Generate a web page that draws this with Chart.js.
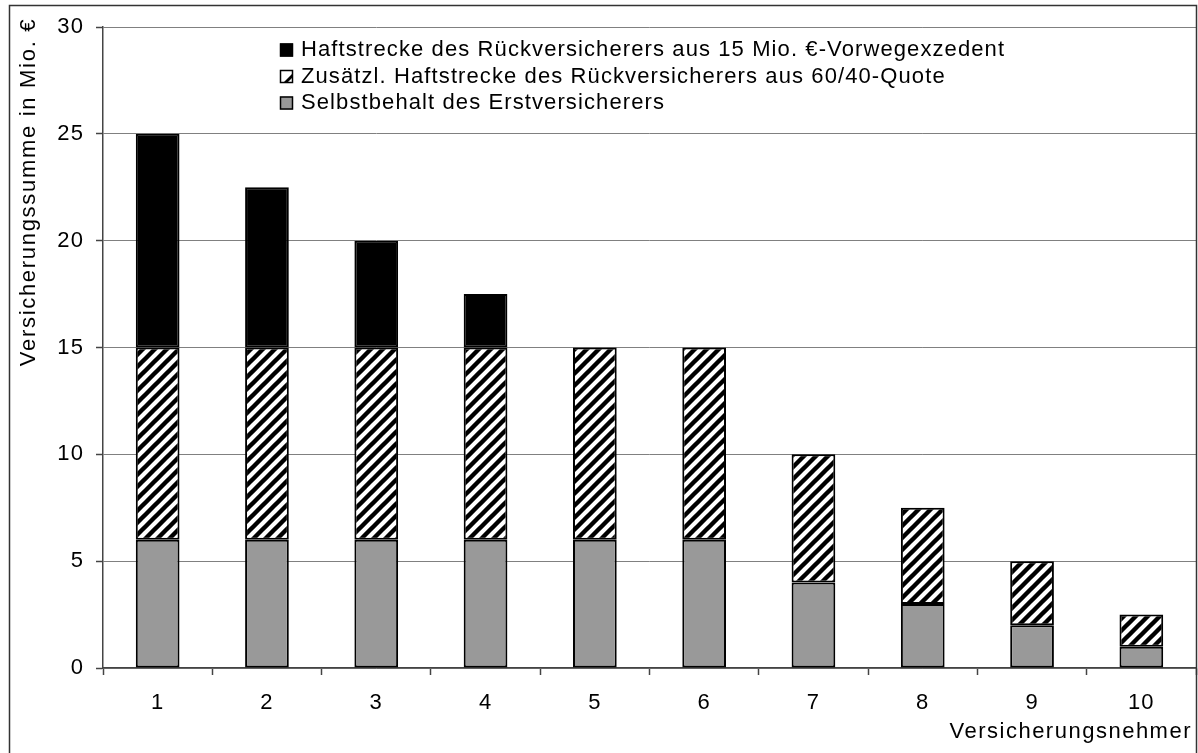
<!DOCTYPE html>
<html>
<head>
<meta charset="utf-8">
<script src="https://cdn.jsdelivr.net/npm/chart.js@4/dist/chart.umd.min.js"></script>
<style>
  html, body { margin: 0; padding: 0; background: #fff; }
  canvas { display: block; }
</style>
</head>
<body>
<canvas id="chart" width="1198" height="753"></canvas>
<script>
// Versicherungsnehmer 1..10
const categories = ['1', '2', '3', '4', '5', '6', '7', '8', '9', '10'];

// Selbstbehalt des Erstversicherers (Mio. €)
const selbstbehalt = [6, 6, 6, 6, 6, 6, 4, 3, 2, 1];
// Zusätzliche Haftstrecke aus der 60/40-Quote (Mio. €)
const quoteHaftung = [9, 9, 9, 9, 9, 9, 6, 4.5, 3, 1.5];
// Haftstrecke aus dem 15 Mio. €-Vorwegexzedent (Mio. €)
const exzedentHaftung = [10, 7.5, 5, 2.5, 0, 0, 0, 0, 0, 0];

const yTicks = [0, 5, 10, 15, 20, 25, 30];

const seriesLabels = [
  'Selbstbehalt des Erstversicherers',
  'Zusätzl. Haftstrecke des Rückversicherers aus 60/40-Quote',
  'Haftstrecke des Rückversicherers aus 15 Mio. €-Vorwegexzedent'
];

const FONT = "'Liberation Sans', Arial, sans-serif";
const FSIZE = 22;
const SPACING = '1.1px';

// diagonal hatch fill "/"
function makeHatch() {
  const s = 12;
  const c = document.createElement('canvas');
  c.width = s; c.height = s;
  const g = c.getContext('2d');
  g.fillStyle = '#fff';
  g.fillRect(0, 0, s, s);
  g.strokeStyle = '#000';
  g.lineWidth = 4.4;
  g.lineCap = 'square';
  g.beginPath();
  g.moveTo(-2, s + 2); g.lineTo(s + 2, -2);
  g.moveTo(-s / 2 - 2, s / 2 + 2); g.lineTo(s / 2 + 2, -s / 2 - 2);
  g.moveTo(s / 2 - 2, s * 1.5 + 2); g.lineTo(s * 1.5 + 2, s / 2 - 2);
  g.stroke();
  return g.createPattern(c, 'repeat');
}

const ctx0 = document.getElementById('chart').getContext('2d');
const hatch = makeHatch();

const fills = ['#999999', hatch, '#000000'];

// white page, slightly wider letter spacing for all text
const pagePlugin = {
  id: 'page',
  beforeLayout(chart) { chart.ctx.letterSpacing = SPACING; },
  beforeDraw(chart) {
    const c = chart.ctx;
    c.save();
    c.fillStyle = '#fff';
    c.fillRect(0, 0, chart.width, chart.height);
    c.restore();
    c.letterSpacing = SPACING;
  },
  afterDraw(chart) {
    const c = chart.ctx;
    c.save();
    c.letterSpacing = SPACING;
    c.fillStyle = '#000';
    c.font = FSIZE + 'px ' + FONT;

    // axis titles
    c.save();
    c.letterSpacing = '1.7px';
    c.translate(29, 192);
    c.rotate(-Math.PI / 2);
    c.textAlign = 'center';
    c.textBaseline = 'middle';
    c.fillText('Versicherungssumme in Mio. €', 0, 0);
    c.restore();

    c.save();
    c.letterSpacing = '1.5px';
    c.textAlign = 'right';
    c.textBaseline = 'middle';
    c.fillText('Versicherungsnehmer', 1192, 732);
    c.restore();

    // legend, top series first
    const order = [2, 1, 0];
    const rowY = [50, 76.5, 103];
    order.forEach((di, i) => {
      const ds = chart.data.datasets[di];
      const bx = 280, by = rowY[i] - 6.5, bs = 13;
      if (di === 1) {
        c.fillStyle = '#fff';
        c.fillRect(bx, by, bs, bs);
        c.fillStyle = '#000';
        c.beginPath();
        c.moveTo(bx + 3, by + bs);
        c.lineTo(bx + bs, by + 3);
        c.lineTo(bx + bs, by + bs);
        c.closePath();
        c.fill();
        c.fillStyle = '#fff';
        c.beginPath();
        c.moveTo(bx + 7, by + bs);
        c.lineTo(bx + bs, by + 7);
        c.lineTo(bx + bs, by + bs);
        c.closePath();
        c.fill();
      } else {
        c.fillStyle = ds.backgroundColor;
        c.fillRect(bx, by, bs, bs);
      }
      c.strokeStyle = '#000';
      c.lineWidth = 1.5;
      c.strokeRect(bx + 0.5, by + 0.5, bs - 1, bs - 1);
      c.fillStyle = '#000';
      c.textAlign = 'left';
      c.textBaseline = 'middle';
      c.fillText(ds.label, 301, rowY[i]);
    });

    // outer frame
    c.strokeStyle = '#333';
    c.lineWidth = 1.5;
    c.strokeRect(9.5, 5.5, 1187, 800);
    c.restore();
  }
};

new Chart(ctx0, {
  type: 'bar',
  data: {
    labels: categories,
    datasets: [
      { label: seriesLabels[0], data: selbstbehalt, backgroundColor: fills[0] },
      { label: seriesLabels[1], data: quoteHaftung, backgroundColor: fills[1] },
      { label: seriesLabels[2], data: exzedentHaftung, backgroundColor: fills[2] }
    ].map(d => Object.assign(d, {
      borderColor: '#000',
      borderWidth: 2,
      borderSkipped: false,
      categoryPercentage: 1,
      barPercentage: 0.4
    }))
  },
  options: {
    responsive: false,
    devicePixelRatio: 1,
    animation: false,
    layout: { padding: { left: 0, top: 27, right: 2, bottom: 0 } },
    plugins: {
      legend: { display: false },
      tooltip: { enabled: false }
    },
    scales: {
      x: {
        stacked: true,
        offset: true,
        afterFit(scale) { scale.height = 85; },
        grid: {
          offset: true,
          drawOnChartArea: false,
          drawTicks: true,
          tickLength: 7,
          tickColor: '#444',
          tickWidth: 1.5
        },
        border: { color: '#444', width: 1.5 },
        ticks: {
          color: '#000',
          font: { family: FONT, size: FSIZE },
          padding: 15,
          maxRotation: 0
        }
      },
      y: {
        stacked: true,
        min: 0,
        max: 30,
        afterFit(scale) { scale.width = 103; },
        afterBuildTicks(scale) { scale.ticks = yTicks.map(v => ({ value: v })); },
        grid: {
          color: '#808080',
          lineWidth: 1,
          drawTicks: true,
          tickLength: 7,
          tickColor: '#444',
          tickWidth: 1.5
        },
        border: { color: '#444', width: 1.5 },
        ticks: {
          color: '#000',
          font: { family: FONT, size: FSIZE },
          padding: 12
        }
      }
    }
  },
  plugins: [pagePlugin]
});
</script>
</body>
</html>
